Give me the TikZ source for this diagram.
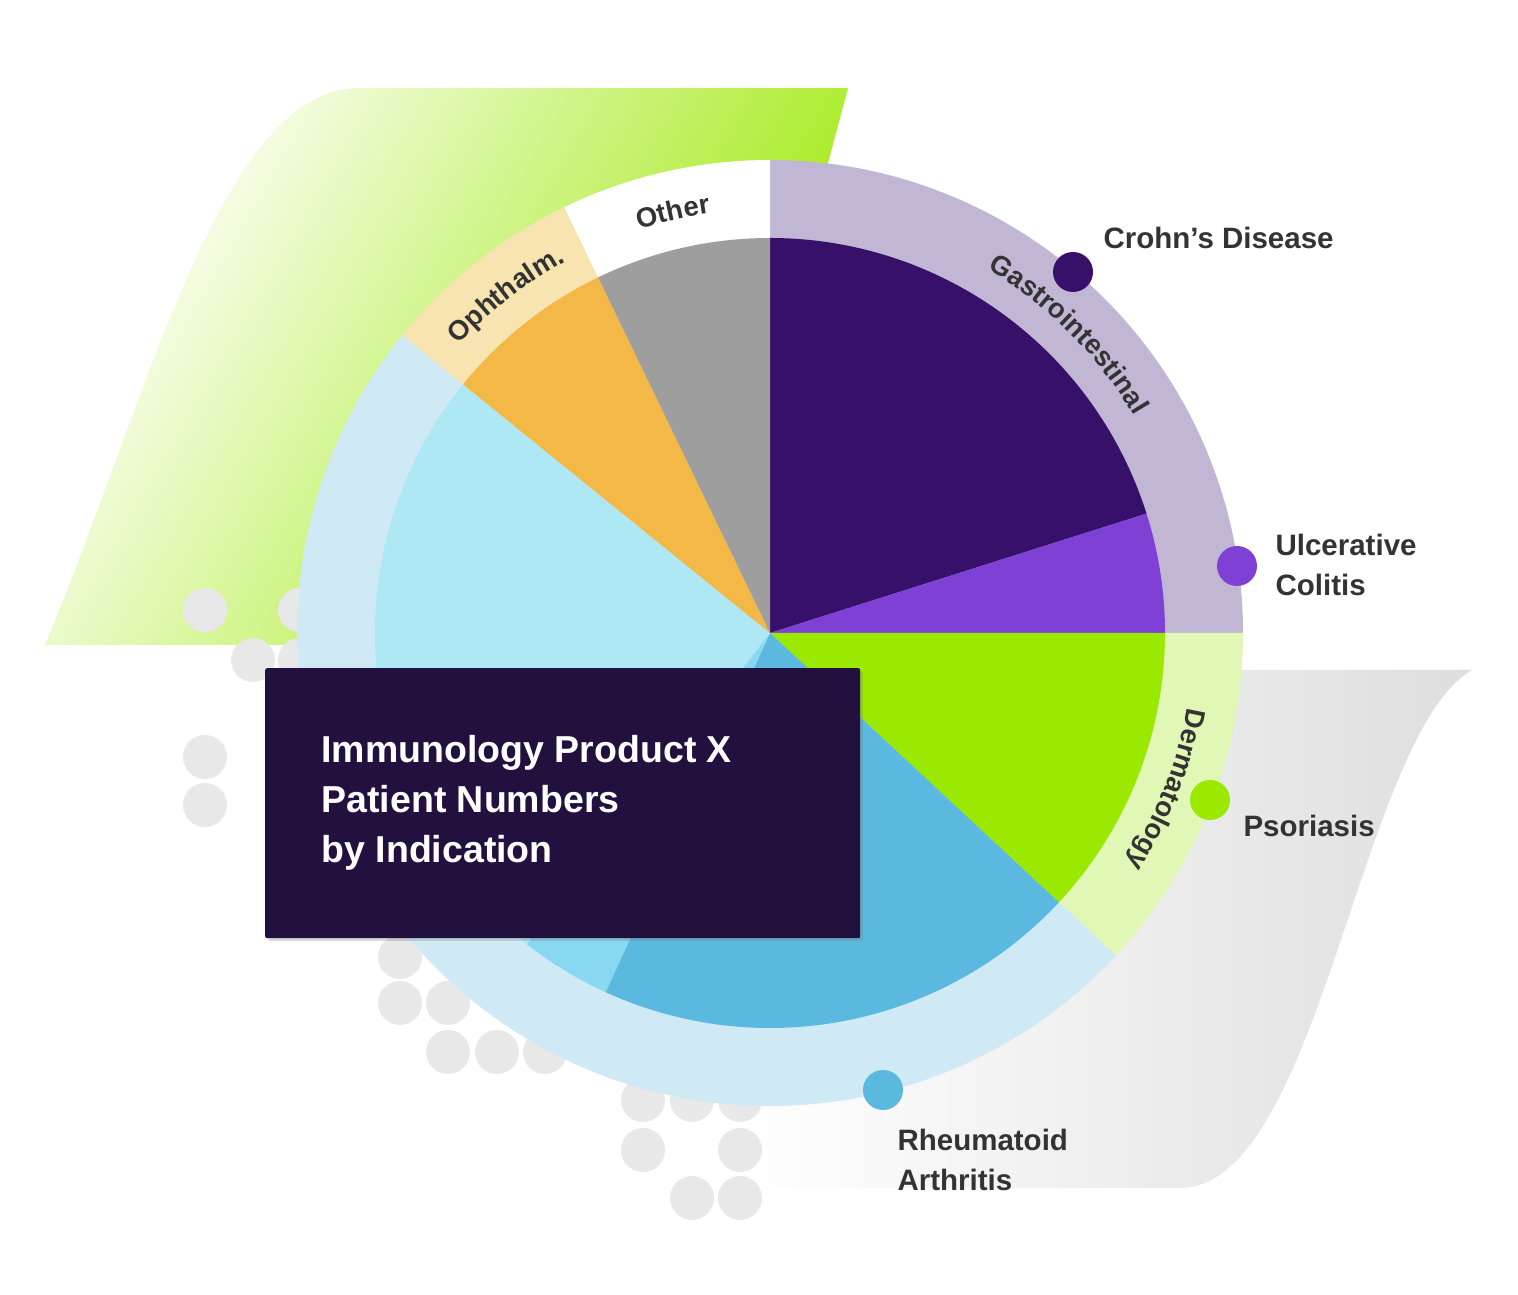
\documentclass[tikz,border=0pt]{standalone}
\usepackage{fontspec}
\setmainfont{Liberation Sans}
\usetikzlibrary{decorations.text,shadows}
\definecolor{cd}{HTML}{37106A}\definecolor{uc}{HTML}{7F40D6}
\definecolor{ps}{HTML}{9BE800}\definecolor{ra}{HTML}{5BB8DE}
\definecolor{ramid}{HTML}{88D8F2}\definecolor{ralt}{HTML}{AEE8F5}
\definecolor{oph}{HTML}{F4B846}\definecolor{oth}{HTML}{9E9E9E}
\definecolor{gir}{HTML}{C1B6D3}\definecolor{der}{HTML}{E0F7B5}
\definecolor{rhr}{HTML}{CFE9F5}\definecolor{ophr}{HTML}{F7E4B0}
\definecolor{boxc}{HTML}{22113F}\definecolor{txt}{HTML}{333333}
\definecolor{dotc}{HTML}{E8E8E8}
\newcommand{\labf}{\fontsize{29.5}{40}\selectfont\bfseries}
\newcommand{\ringf}{\fontsize{27.5}{30}\selectfont\bfseries}
\newcommand{\mywedge}[4]{\fill[#1] (C) -- ([shift={(#2:#4)}]C) arc[start angle=#2,end angle=#3,radius=#4] -- cycle;}
\newcommand{\ringtext}[3]{\path[decorate,decoration={text along path,text={|\ringf|#1},text align=center,text color=txt}] ([shift={(#2:424)}]C) arc[start angle=#2,end angle=#3,radius=424];}
\tikzset{lab/.style={anchor=west,align=left,text=txt,font=\labf},
markdot/.style={circle,minimum size=40pt,inner sep=0pt}}
\begin{document}
\begin{tikzpicture}[x=1pt,y=1pt]
\useasboundingbox (0,0) rectangle (1518,1294);
\coordinate (C) at (770,661);
% background shapes
\shade[left color=white,right color=ps,shading angle=60] (45,649) .. controls (150,900) and (220,1206) .. (360,1206) -- (848,1206) -- (700,649) -- cycle;
\shade[left color=white,right color=black!13] (1472,624) -- (800,624) -- (740,106) -- (1180,106) .. controls (1320,106) and (1360,560) .. (1472,624) -- cycle;
% dots
\foreach \p in {(205,684),(300,684),(253,634),(300,634),(205,537),(205,489),(400,337),(400,291),(448,291),(448,242),(497,242),(545,242),(643,194),(692,194),(740,194),(643,144),(740,144),(692,96),(740,96)}
  \fill[dotc] \p circle (22);
% rings
\mywedge{gir}{90}{0}{473}
\mywedge{der}{0}{-43}{473}
\mywedge{rhr}{-43}{-219}{473}
\mywedge{ophr}{141}{115.8}{473}
\mywedge{white}{115.8}{90}{473}
% pie
\mywedge{cd}{90}{17.6}{395}
\mywedge{uc}{17.6}{0}{395}
\mywedge{ps}{0}{-43}{395}
\mywedge{ra}{-43}{-114.6}{395}
\mywedge{ramid}{-114.6}{-128}{395}
\mywedge{ralt}{-128}{-219}{395}
\mywedge{oph}{141}{115.8}{395}
\mywedge{oth}{115.8}{90}{395}
% ring labels
\ringtext{Gastrointestinal}{88}{2}
\ringtext{Dermatology}{-1}{-42}
\ringtext{Ophthalm.}{141}{115}
\ringtext{Other}{115}{91}
% markers
\node[markdot,fill=cd] (m1) at (1073,1022) {};
\node[markdot,fill=uc] (m2) at (1237,728) {};
\node[markdot,fill=ps] (m3) at (1210,494) {};
\node[markdot,fill=ra] (m4) at (883,204) {};
\node[lab] (l1) at (1100,1056) {Crohn’s Disease};
\node[lab] (l2) at (1272,729) {Ulcerative\\Colitis};
\node[lab] (l3) at (1240,468) {Psoriasis};
\node[lab] (l4) at (894,134) {Rheumatoid\\Arthritis};
% title box
\node[fill=boxc,drop shadow={opacity=0.3},minimum width=595pt,minimum height=270pt,anchor=north west,rounded corners=2pt] (box) at (265,626) {};
\node[anchor=west,align=left,text=white,font=\fontsize{37.5}{50}\selectfont\bfseries] (title) at (318,491) {Immunology Product X\\Patient Numbers\\by Indication};
\end{tikzpicture}
\end{document}
